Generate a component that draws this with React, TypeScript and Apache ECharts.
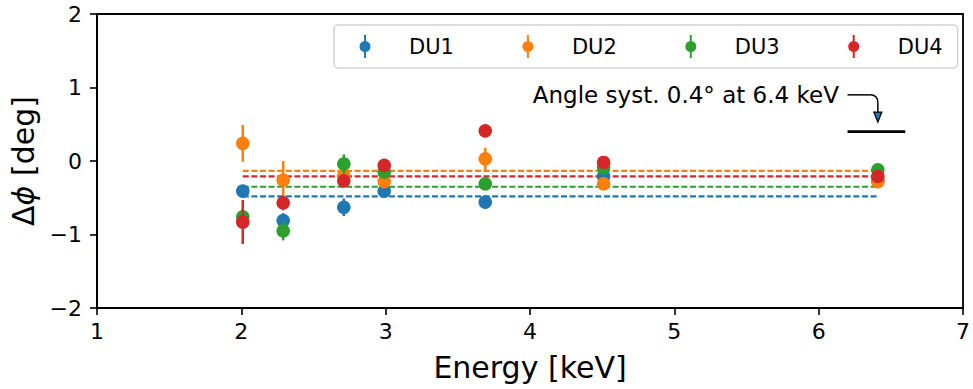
import React, { useEffect, useRef } from "react";
import * as echarts from "echarts";

// ---- data ----
const energies = [2.01, 2.29, 2.71, 2.99, 3.69, 4.51, 6.41];
const seriesNames = ["DU1", "DU2", "DU3", "DU4"];
const colors = ["#1f77b4", "#ff7f0e", "#2ca02c", "#d62728"];

const du1 = [-0.41, -0.81, -0.63, -0.41, -0.56, -0.21, -0.27];
const du1Err = [0.06, 0.1, 0.12, 0.06, 0.08, 0.06, 0.05];
const du2 = [0.24, -0.26, -0.2, -0.28, 0.03, -0.31, -0.28];
const du2Err = [0.25, 0.26, 0.1, 0.08, 0.15, 0.07, 0.05];
const du3 = [-0.76, -0.95, -0.04, -0.15, -0.31, -0.09, -0.12];
const du3Err = [0.1, 0.13, 0.13, 0.06, 0.08, 0.06, 0.05];
const du4 = [-0.83, -0.57, -0.27, -0.06, 0.41, -0.02, -0.21];
const du4Err = [0.3, 0.1, 0.08, 0.05, 0.06, 0.05, 0.05];

// mean levels (dashed lines)
const meanLevels = [-0.48, -0.135, -0.35, -0.21];

// angle systematic bar
const systLineX = [6.2, 6.6];
const systLineY = 0.4;

// annotation
const annotText = "Angle syst. 0.4° at 6.4 keV";
const annotTextAnchor = [6.14, 0.9];
const annotArrowStart = [6.2, 0.9];
const annotArrowTip = [6.41, 0.53];

const xTicks = { min: 1, max: 7, interval: 1 };
const yTicks = { min: -2, max: 2, interval: 1 };

const values = [du1, du2, du3, du4];
const errors = [du1Err, du2Err, du3Err, du4Err];

const FONT = "DejaVu Sans";

const legendIcon =
  "path://M0,12L0.01,12L0,12.01Z M60,12L59.99,12L60,12.01Z M20,0.5L22,0.5L22,7L20,7Z M20,17L22,17L22,23.5L20,23.5Z M15.5,12A5.5,5.5 0 1,1 26.5,12A5.5,5.5 0 1,1 15.5,12Z";

export default function App() {
  const ref = useRef<HTMLDivElement>(null);

  useEffect(() => {
    if (!ref.current) return;
    const chart = echarts.init(ref.current, null, { renderer: "svg" });

    const errSeries = seriesNames.map((name, i) => ({
      type: "custom",
      name,
      color: colors[i],
      z: 3,
      data: energies.map((e, k) => [e, values[i][k], errors[i][k]]),
      renderItem: (params: any, api: any) => {
        const x = api.value(0);
        const y = api.value(1);
        const err = api.value(2);
        const c = api.coord([x, y]);
        const lo = api.coord([x, y - err]);
        const hi = api.coord([x, y + err]);
        return {
          type: "group",
          children: [
            {
              type: "line",
              shape: { x1: lo[0], y1: lo[1], x2: hi[0], y2: hi[1] },
              style: { stroke: colors[i], lineWidth: 2.5 },
            },
            {
              type: "circle",
              shape: { cx: c[0], cy: c[1], r: 6.8 },
              style: { fill: colors[i] },
            },
          ],
        };
      },
    }));

    const meanSeries = seriesNames.map((name, i) => ({
      type: "line",
      name: name + "_mean",
      data: [
        [energies[0], meanLevels[i]],
        [energies[energies.length - 1], meanLevels[i]],
      ],
      symbol: "none",
      z: 2,
      lineStyle: { color: colors[i], width: 2.2, type: [6, 2.6] },
      silent: true,
    }));

    const option: any = {
      animation: false,
      backgroundColor: "#fff",
      textStyle: { fontFamily: FONT },
      grid: {
        left: 97,
        right: 8,
        top: 14,
        bottom: 81,
        show: true,
        borderColor: "#000",
        borderWidth: 1.8,
        backgroundColor: "transparent",
      },
      legend: {
        data: seriesNames.map((n) => ({ name: n, icon: legendIcon })),
        left: 334,
        top: 25,
        itemWidth: 60,
        itemHeight: 24,
        itemGap: 53,
        padding: [10, 15, 10, 10],
        backgroundColor: "rgba(255,255,255,0.8)",
        borderColor: "#d4d4d4",
        borderWidth: 1.5,
        borderRadius: 4,
        textStyle: { fontFamily: FONT, fontSize: 21, color: "#000" },
        selectedMode: false,
      },
      xAxis: {
        type: "value",
        min: xTicks.min,
        max: xTicks.max,
        interval: xTicks.interval,
        name: "Energy [keV]",
        nameLocation: "middle",
        nameGap: 44,
        nameTextStyle: { fontFamily: FONT, fontSize: 30, color: "#000" },
        axisLine: { show: true, onZero: false, lineStyle: { color: "#000", width: 1.8 } },
        axisTick: { show: true, length: 7, lineStyle: { color: "#000", width: 1.6 } },
        axisLabel: { fontFamily: FONT, fontSize: 22, color: "#000", margin: 12 },
        splitLine: { show: false },
      },
      yAxis: {
        type: "value",
        min: yTicks.min,
        max: yTicks.max,
        interval: yTicks.interval,
        name: "{n|Δ}{i|ϕ}{n| [deg]}",
        nameLocation: "middle",
        nameGap: 56,
        nameTextStyle: {
          fontFamily: FONT,
          fontSize: 30,
          color: "#000",
          rich: {
            n: { fontFamily: FONT, fontSize: 30, color: "#000" },
            i: { fontFamily: FONT, fontSize: 30, color: "#000", fontStyle: "italic" },
          },
        },
        axisLine: { show: true, onZero: false, lineStyle: { color: "#000", width: 1.8 } },
        axisTick: { show: true, length: 7, lineStyle: { color: "#000", width: 1.6 } },
        axisLabel: {
          fontFamily: FONT,
          fontSize: 22,
          color: "#000",
          margin: 15,
          formatter: (v: number) => (v < 0 ? "\u2212" + Math.abs(v) : String(v)),
        },
        splitLine: { show: false },
      },
      series: [
        ...meanSeries,
        ...errSeries,
        {
          type: "line",
          name: "syst",
          data: [
            [systLineX[0], systLineY],
            [systLineX[1], systLineY],
          ],
          symbol: "none",
          lineStyle: { color: "#000", width: 2.8 },
          z: 4,
          silent: true,
        },
      ],
    };

    chart.setOption(option);

    const tA = chart.convertToPixel({ gridIndex: 0 }, annotTextAnchor);
    const aS = chart.convertToPixel({ gridIndex: 0 }, annotArrowStart);
    const aT = chart.convertToPixel({ gridIndex: 0 }, annotArrowTip);
    const r = 8;
    const headLen = 10;
    const headHalf = 4;

    chart.setOption({
      graphic: [
        {
          type: "text",
          x: tA[0],
          y: tA[1],
          style: {
            text: annotText,
            fontFamily: FONT,
            fontSize: 23,
            fill: "#000",
            align: "right",
            verticalAlign: "middle",
          },
          z: 10,
        },
        {
          type: "polyline",
          shape: {
            points: [
              [aS[0], aS[1]],
              [aT[0] - r, aS[1]],
            ],
          },
          style: { stroke: "#000", lineWidth: 1.5, fill: "none" },
          z: 10,
        },
        {
          type: "bezierCurve",
          shape: {
            x1: aT[0] - r,
            y1: aS[1],
            cpx1: aT[0],
            cpy1: aS[1],
            x2: aT[0],
            y2: aS[1] + r,
          },
          style: { stroke: "#000", lineWidth: 1.5, fill: "none" },
          z: 10,
        },
        {
          type: "polyline",
          shape: {
            points: [
              [aT[0], aS[1] + r],
              [aT[0], aT[1] - headLen],
            ],
          },
          style: { stroke: "#000", lineWidth: 1.5, fill: "none" },
          z: 10,
        },
        {
          type: "polygon",
          shape: {
            points: [
              [aT[0] - headHalf, aT[1] - headLen],
              [aT[0] + headHalf, aT[1] - headLen],
              [aT[0], aT[1]],
            ],
          },
          style: { fill: "#1f77b4", stroke: "#000", lineWidth: 1.2 },
          z: 10,
        },
      ],
    });

    return () => chart.dispose();
  }, []);

  return (
    <div
      ref={ref}
      style={{ position: "fixed", left: 0, top: 0, width: 973, height: 389 }}
    />
  );
}
